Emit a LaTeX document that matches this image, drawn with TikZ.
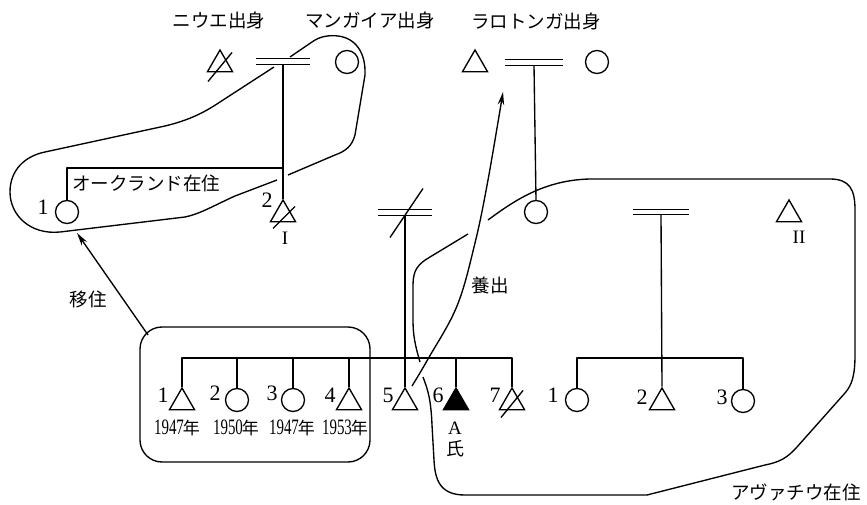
\documentclass[tikz,border=0pt]{standalone}
\usepackage{fontspec}
\setmainfont{Liberation Serif}
\newfontfamily\jpfont{Noto Sans CJK JP}
\usetikzlibrary{shapes.geometric,arrows.meta}
\tikzset{
 ln/.style={line width=1.35pt, line join=round},
 male/.style={regular polygon, regular polygon sides=3, draw, line width=1.35pt, minimum size=29pt, inner sep=0pt},
 female/.style={circle, draw, line width=1.35pt, minimum size=23pt, inner sep=0pt},
 marr/.style={minimum width=54pt, minimum height=5pt, inner sep=0pt, draw=none},
 num/.style={font=\fontsize{22}{22}\selectfont, inner sep=0pt},
 rom/.style={font=\fontsize{19}{19}\selectfont, inner sep=0pt},
 yr/.style={font=\fontsize{22}{22}\selectfont, inner sep=0pt},
 jp/.style={font=\jpfont\fontsize{18.5}{18.5}\selectfont, inner sep=0pt},
 arr/.style={ln, -{Stealth[length=13pt,width=6.5pt]}},
}
\newcommand{\marrline}[1]{\draw[ln] (#1.north west) -- (#1.north east); \draw[ln] (#1.south west) -- (#1.south east);}
\newcommand{\yearlab}[1]{\scalebox{0.68}[1]{#1}\hspace{-1pt}{\jpfont\fontsize{17}{17}\selectfont 年}}
\begin{document}
\begin{tikzpicture}[x=1pt,y=-1pt]
\useasboundingbox (0,0) rectangle (867,505);
% top labels
\node[jp] (lbN) at (219,20) {ニウエ出身};
\node[jp] (lbM) at (370,20) {マンガイア出身};
\node[jp] (lbR) at (536,21) {ラロトンガ出身};
% generation I
\node[male] (N1) at (220,64.5) {};
\draw[ln] ([shift={(-12,17)}]N1.center) -- ([shift={(12,-12)}]N1.center);
\node[marr] (M1) at (283,61.5) {};
\marrline{M1}
\node[female] (G1) at (347,62) {};
\node[male] (R1) at (475,64.5) {};
\node[marr, minimum width=58pt] (M2) at (534,62.5) {};
\marrline{M2}
\node[female] (R2) at (597,62) {};
% generation II
\node[female] (A1) at (67,212) {};
\node[num] (lA1) at (43,207) {1};
\node[male] (I2) at (283,214.5) {};
\draw[ln] ([shift={(-10,14)}]I2.center) -- ([shift={(12,-8)}]I2.center);
\node[num] (lI2) at (267,200) {2};
\node[rom] (lI) at (285,238) {I};
\coordinate (sib1) at (283,168);
\draw[ln] (A1.north) |- (sib1);
\draw[ln] (M1.south) -- (I2.north);
\node[jp, anchor=west] (auck) at (72,183) {オークランド在住};
\node[marr] (M3) at (405,212.5) {};
\marrline{M3}
\draw[ln] ([shift={(-15,25)}]M3.center) -- ([shift={(18,-24)}]M3.center);
\node[female] (W) at (536,212) {};
\draw[ln] (M2.south) -- (W.north);
\node[male] (T2) at (789,214.5) {};
\node[rom] (lII) at (799,237) {II};
\node[marr, minimum width=56pt] (M4) at (661,212) {};
\marrline{M4}
% generation III (left)
\node[male] (C1) at (182,402.5) {};
\node[female] (C2) at (237,400) {};
\node[female] (C3) at (293,400) {};
\node[male] (C4) at (349,402.5) {};
\node[male] (C5) at (405,402.5) {};
\node[male, fill=black] (C6) at (456,402.5) {};
\node[male] (C7) at (512,402.5) {};
\draw[ln] ([shift={(-11,15)}]C7.center) -- ([shift={(11,-12)}]C7.center);
\coordinate (sib3) at (405,358);
\draw[ln] (C1.north) |- (sib3);
\draw[ln] (C7.north) |- (sib3);
\draw[ln] (C2.north) -- (C2.north |- sib3);
\draw[ln] (C3.north) -- (C3.north |- sib3);
\draw[ln] (C4.north) -- (C4.north |- sib3);
\draw[ln] (C6.north) -- (C6.north |- sib3);
\draw[ln] (M3.south) -- (C5.north);
\node[num] (l1) at (163,395) {1};
\node[num] (l2) at (215,393) {2};
\node[num] (l3) at (272,393) {3};
\node[num] (l4) at (330,395) {4};
\node[num] (l5) at (388,395) {5};
\node[num] (l6) at (438,395) {6};
\node[num] (l7) at (495,395) {7};
\node[yr] (y1) at (177,428) {\yearlab{1947}};
\node[yr] (y2) at (236,428) {\yearlab{1950}};
\node[yr] (y3) at (292,428) {\yearlab{1947}};
\node[yr] (y4) at (345,428) {\yearlab{1953}};
\node[rom] (lA) at (455,428) {A};
\node[jp, font=\jpfont\fontsize{18}{18}\selectfont] (lshi) at (455,449) {氏};
% generation III (right)
\node[female] (D1) at (577,400) {};
\node[male] (D2) at (662,402.5) {};
\node[female] (D3) at (743,401) {};
\coordinate (sib4) at (662,358);
\draw[ln] (D1.north) |- (sib4);
\draw[ln] (D3.north) |- (sib4);
\draw[ln] (M4.south) -- (D2.north);
\node[num] (m1) at (553,395) {1};
\node[num] (m2) at (642,397) {2};
\node[num] (m3) at (722,397) {3};
% box around siblings 1-4
\node[draw, ln, rounded corners=22pt, minimum width=230pt, minimum height=135pt, inner sep=0pt] (box) at (255,394.5) {};
% migration arrow
\coordinate (migS) at (148,335);
\coordinate (migE) at (77,233);
\draw[arr] (migS) -- (migE);
\node[jp] (lmig) at (88,299) {移住};
% adoption arrow
\coordinate (adS) at (412,386);
\coordinate (adE) at (503,92);
\draw[arr] plot[smooth, tension=0.6] coordinates {(adS) (428,359) (457,306) (475,243) (488,180) (adE)};
\node[jp] (lad) at (490,285) {養出};
% Auckland loop
\draw[ln] (290,57) -- (312,42) .. controls (320,36) and (330,35) .. (338,36) .. controls (355,38) and (366,52) .. (365,75) -- (355,135) .. controls (352,146) and (346,151) .. (335,155) -- (288,175);
\draw[ln] (277,180) -- (235,196) .. controls (215,205) and (200,214) .. (185,217) -- (60,232) .. controls (30,235) and (10,215) .. (10,192) .. controls (10,170) and (25,156) .. (45,152) -- (165,126) .. controls (190,120) and (205,112) .. (220,102) -- (274,67);
% Avarua loop
\draw[ln] (488,220) .. controls (515,200) and (545,180) .. (590,179) -- (830,179) .. controls (850,179) and (855,190) .. (855,210) -- (855,355) .. controls (855,375) and (852,385) .. (845,393) -- (797,447) .. controls (787,458) and (780,462) .. (765,465) -- (647,495) -- (465,495) .. controls (440,495) and (435,480) .. (434,460) -- (432,425) .. controls (431,400) and (428,390) .. (423,377);
\draw[ln] (420,362) .. controls (415,345) and (413,335) .. (413,320) -- (413,285) .. controls (413,270) and (418,264) .. (430,257) -- (468,234);
\node[jp, anchor=east] (avarua) at (861,492) {アヴァチウ在住};
\end{tikzpicture}
\end{document}
